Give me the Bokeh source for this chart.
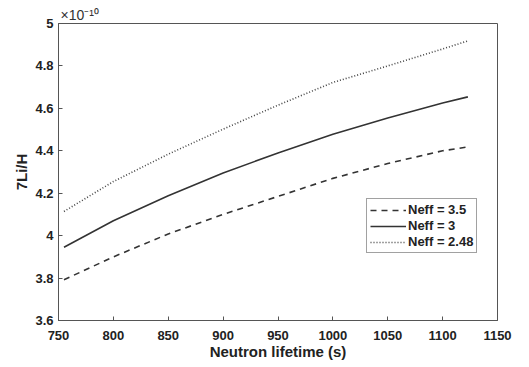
from bokeh.plotting import figure
from bokeh.models import Legend, LegendItem, Title, FixedTicker
from bokeh.embed import file_html
from bokeh.resources import INLINE

lifetime = [755, 800, 850, 900, 950, 1000, 1050, 1100, 1123]
neff_35 = [3.792, 3.900, 4.008, 4.100, 4.185, 4.270, 4.340, 4.400, 4.418]
neff_3 = [3.945, 4.070, 4.188, 4.295, 4.390, 4.478, 4.555, 4.625, 4.654]
neff_248 = [4.114, 4.255, 4.384, 4.502, 4.615, 4.722, 4.800, 4.880, 4.918]
labels = ["Neff = 3.5", "Neff = 3", "Neff = 2.48"]
xticks = [750, 800, 850, 900, 950, 1000, 1050, 1100, 1150]
yticks = [3.6, 3.8, 4.0, 4.2, 4.4, 4.6, 4.8, 5.0]

FONT = "Liberation Sans"
p = figure(width=513, height=362, output_backend="svg", toolbar_location=None,
           x_range=(750, 1150), y_range=(3.6, 5.0),
           min_border_left=58, min_border_right=16, min_border_top=23, min_border_bottom=42)
p.grid.visible = False
p.outline_line_color = "#555555"
p.outline_line_width = 1
p.background_fill_color = "white"
p.border_fill_color = "white"

for ax, ticks in ((p.xaxis[0], xticks), (p.yaxis[0], yticks)):
    ax.ticker = FixedTicker(ticks=ticks)
    ax.major_tick_in = 4
    ax.major_tick_out = 0
    ax.minor_tick_in = 0
    ax.minor_tick_out = 0
    ax.axis_line_color = "#555555"
    ax.major_tick_line_color = "#555555"
    ax.major_label_text_font = FONT
    ax.major_label_text_font_style = "bold"
    ax.major_label_text_font_size = "13px"
    ax.major_label_text_color = "#222222"
    ax.axis_label_text_font = FONT
    ax.axis_label_text_font_style = "bold"
    ax.axis_label_text_font_size = "15px"
    ax.axis_label_text_color = "#222222"

p.xaxis[0].major_label_overrides = {v: str(v) for v in xticks}
p.yaxis[0].major_label_overrides = {v: ("%g" % v) for v in yticks}
p.xaxis[0].axis_label = "Neutron lifetime (s)"
p.xaxis[0].axis_label_standoff = 0
p.xaxis[0].major_label_standoff = 10
p.yaxis[0].axis_label = "7Li/H"
p.yaxis[0].axis_label_standoff = 2
p.yaxis[0].major_label_standoff = 5

r1 = p.line(lifetime, neff_35, line_color="#333333", line_width=1.6, line_dash="6 5")
r2 = p.line(lifetime, neff_3, line_color="#333333", line_width=1.6)
r3 = p.line(lifetime, neff_248, line_color="#444444", line_width=1.6, line_dash="1 2")

legend = Legend(items=[LegendItem(label=labels[0], renderers=[r1]),
                       LegendItem(label=labels[1], renderers=[r2]),
                       LegendItem(label=labels[2], renderers=[r3])],
                location=(308, 67), orientation="vertical",
                label_text_font=FONT, label_text_font_style="bold",
                label_text_font_size="13px", label_text_color="#222222",
                glyph_width=36, glyph_height=14, label_height=14,
                label_standoff=2, spacing=1, padding=3, margin=0,
                border_line_color="#444444", border_line_width=1,
                background_fill_alpha=1)
p.add_layout(legend, "center")

p.add_layout(Title(text="×10⁻¹⁰", align="left", offset=2, standoff=1,
                   text_font=FONT, text_font_size="14px", text_font_style="normal",
                   text_color="#333333"), "above")

open("out.html", "w").write(file_html(p, INLINE))
